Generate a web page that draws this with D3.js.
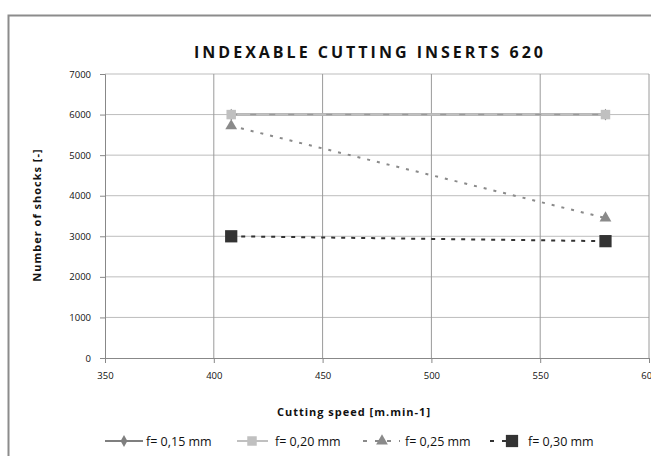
<!DOCTYPE html>
<html>
<head>
    <meta charset="utf-8" />
    <title>Indexable cutting inserts 620</title>
    <style>
        body { margin: 0; background: #fff; }
        svg text { font-family: "Open Sans", "DejaVu Sans", sans-serif; fill: #111; }
    </style>
</head>
<body>
    <svg></svg>
    <script src="https://d3js.org/d3.v7.min.js"></script>
    <script>
        // data
        let speeds = [408, 580];
        let f015 = [6000, 6000];
        let f020 = [6000, 6000];
        let f025 = [5720, 3450];
        let f030 = [3000, 2880];
        let seriesNames = ["f= 0,15 mm", "f= 0,20 mm", "f= 0,25 mm", "f= 0,30 mm"];
        let xTicks = [350, 400, 450, 500, 550, 600];
        let yTicks = [0, 1000, 2000, 3000, 4000, 5000, 6000, 7000];

        let width = 651, height = 456;
        let svg = d3.select("svg").attr("width", width).attr("height", height);

        // outer chart frame (runs off the right / bottom edge)
        svg.append("rect")
            .attr("x", 8.5).attr("y", 15.5)
            .attr("width", 700).attr("height", 500)
            .attr("fill", "none")
            .attr("stroke", "#8c8c8c")
            .attr("stroke-width", 2);

        let x = d3.scaleLinear().domain([350, 600]).range([105, 649]);
        let y = d3.scaleLinear().domain([0, 7000]).range([358, 74]);

        // grid
        svg.append("g").selectAll("line")
            .data(yTicks.slice(1))
            .join("line")
            .attr("x1", x(350)).attr("x2", x(600))
            .attr("y1", d => y(d)).attr("y2", d => y(d))
            .attr("stroke", "#bdbdbd").attr("stroke-width", 1);

        svg.append("g").selectAll("line")
            .data(xTicks.slice(1))
            .join("line")
            .attr("x1", d => x(d)).attr("x2", d => x(d))
            .attr("y1", y(0)).attr("y2", y(7000))
            .attr("stroke", "#9a9a9a").attr("stroke-width", 1);

        // axes
        let yAxis = svg.append("g")
            .attr("transform", "translate(" + x(350) + ",0)")
            .call(d3.axisLeft(y).tickValues(yTicks).tickSize(5).tickPadding(9).tickFormat(d3.format("d")));
        let xAxis = svg.append("g")
            .attr("transform", "translate(0," + y(0) + ")")
            .call(d3.axisBottom(x).tickValues(xTicks).tickSize(5).tickPadding(9).tickFormat(d3.format("d")));
        [xAxis, yAxis].forEach(a => {
            a.select(".domain").attr("stroke", "#888");
            a.selectAll(".tick line").attr("stroke", "#888");
            a.selectAll("text").style("font-size", "9.5px").attr("fill", "#1a1a1a");
        });

        // series
        let series = [
            { name: seriesNames[0], values: f015, color: "#7f7f7f", dash: null, marker: d3.symbolDiamond, size: 40 },
            { name: seriesNames[1], values: f020, color: "#c0c0c0", dash: null, marker: d3.symbolSquare, size: 90 },
            { name: seriesNames[2], values: f025, color: "#8a8a8a", dash: "3,7", marker: d3.symbolTriangle, size: 60 },
            { name: seriesNames[3], values: f030, color: "#333333", dash: "4,6", marker: d3.symbolSquare, size: 150 }
        ];

        let line = d3.line().x(d => x(d[0])).y(d => y(d[1]));

        series.forEach(s => {
            let pts = speeds.map((v, i) => [v, s.values[i]]);
            svg.append("path")
                .datum(pts)
                .attr("d", line)
                .attr("fill", "none")
                .attr("stroke", s.color)
                .attr("stroke-width", s.dash ? 2 : 2.5)
                .attr("stroke-dasharray", s.dash);
            if (s.name === seriesNames[1]) {
                // darker dashes seen on top of the light line
                svg.append("path")
                    .datum(pts)
                    .attr("d", line)
                    .attr("fill", "none")
                    .attr("stroke", "#9a9a9a")
                    .attr("stroke-width", 1.5)
                    .attr("stroke-dasharray", "6,13");
            }
            svg.append("g").selectAll("path")
                .data(pts)
                .join("path")
                .attr("transform", d => "translate(" + x(d[0]) + "," + y(d[1]) + ")")
                .attr("d", d3.symbol().type(s.marker).size(s.size))
                .attr("fill", s.color);
        });

        // title and axis labels
        svg.append("text")
            .attr("x", 370).attr("y", 58)
            .attr("text-anchor", "middle")
            .style("font-size", "16px").style("font-weight", "bold")
            .style("letter-spacing", "3px")
            .text("INDEXABLE CUTTING INSERTS 620");

        svg.append("text")
            .attr("x", 354).attr("y", 416)
            .attr("text-anchor", "middle")
            .style("font-size", "11px").style("font-weight", "bold")
            .style("letter-spacing", "1px")
            .text("Cutting speed [m.min-1]");

        svg.append("text")
            .attr("transform", "translate(41,215) rotate(-90)")
            .attr("text-anchor", "middle")
            .style("font-size", "11px").style("font-weight", "bold")
            .style("letter-spacing", "1px")
            .text("Number of shocks [-]");

        // legend
        let legendItems = [
            { x1: 105, x2: 143, mx: 124, tx: 146 },
            { x1: 237, x2: 268, mx: 252, tx: 275 },
            { x1: 363, x2: 400, mx: 382, tx: 405 },
            { x1: 490, x2: 524, mx: 512, tx: 528 }
        ];
        let legend = svg.append("g").attr("transform", "translate(0,441)");
        series.forEach((s, i) => {
            let it = legendItems[i];
            legend.append("line")
                .attr("x1", it.x1).attr("x2", it.x2)
                .attr("stroke", s.color)
                .attr("stroke-width", 2)
                .attr("stroke-dasharray", s.dash ? "4,8" : null);
            legend.append("path")
                .attr("transform", "translate(" + it.mx + ",0)")
                .attr("d", d3.symbol().type(s.marker).size(s.size))
                .attr("fill", s.color);
            legend.append("text")
                .attr("x", it.tx).attr("y", 4.5)
                .style("font-size", "12.5px")
                .text(s.name);
        });
    </script>
</body>
</html>
